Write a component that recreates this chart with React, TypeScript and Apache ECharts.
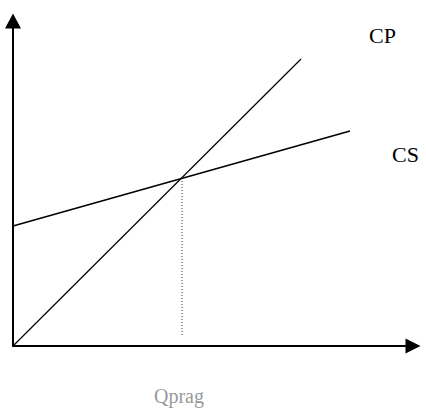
import React, { useEffect, useRef } from "react";
import * as echarts from "echarts";

// values (x, y in chart units)
const cpLine: [number, number][] = [[0, 0], [288, 287]];
const csLine: [number, number][] = [[0, 120], [337, 215]];
const qpragGuide: [number, number][] = [[169, 168], [169, 11]];
const curveLabels = ["CP", "CS"];
const xLabel = "Qprag";

export default function App() {
  const ref = useRef<HTMLDivElement>(null);
  useEffect(() => {
    if (!ref.current) return;
    const chart = echarts.init(ref.current, null, { renderer: "svg" });
    const serif = "'Liberation Serif', 'Times New Roman', serif";
    chart.setOption({
      animation: false,
      backgroundColor: "#ffffff",
      grid: { left: 13, right: 13, top: 21, bottom: 62, containLabel: false },
      xAxis: {
        type: "value",
        min: 0,
        max: 400,
        splitLine: { show: false },
        axisTick: { show: false },
        axisLabel: { show: false },
        axisLine: {
          show: true,
          onZero: false,
          symbol: ["none", "triangle"],
          symbolSize: [15, 15],
          lineStyle: { color: "#000", width: 2 },
        },
      },
      yAxis: {
        type: "value",
        min: 0,
        max: 325,
        splitLine: { show: false },
        axisTick: { show: false },
        axisLabel: { show: false },
        axisLine: {
          show: true,
          onZero: false,
          symbol: ["none", "triangle"],
          symbolSize: [16, 15],
          lineStyle: { color: "#000", width: 2 },
        },
      },
      series: [
        {
          name: curveLabels[0],
          type: "line",
          data: cpLine,
          showSymbol: false,
          clip: false,
          lineStyle: { color: "#000", width: 1.2 },
        },
        {
          name: curveLabels[1],
          type: "line",
          data: csLine,
          showSymbol: false,
          clip: false,
          lineStyle: { color: "#000", width: 1.5 },
        },
        {
          name: "guide",
          type: "line",
          data: qpragGuide,
          showSymbol: false,
          clip: false,
          lineStyle: { color: "#333", width: 1, type: [1, 2] },
        },
      ],
      graphic: [
        {
          type: "text",
          left: 369,
          top: 24,
          style: { text: curveLabels[0], font: `22px ${serif}`, fill: "#000" },
        },
        {
          type: "text",
          left: 392,
          top: 143,
          style: { text: curveLabels[1], font: `22px ${serif}`, fill: "#000" },
        },
        {
          type: "text",
          left: 154,
          top: 386,
          style: { text: xLabel, font: `20px ${serif}`, fill: "#999" },
        },
      ],
    });
    return () => chart.dispose();
  }, []);
  return (
    <div
      ref={ref}
      style={{ position: "fixed", left: 0, top: 0, width: 426, height: 408 }}
    />
  );
}
